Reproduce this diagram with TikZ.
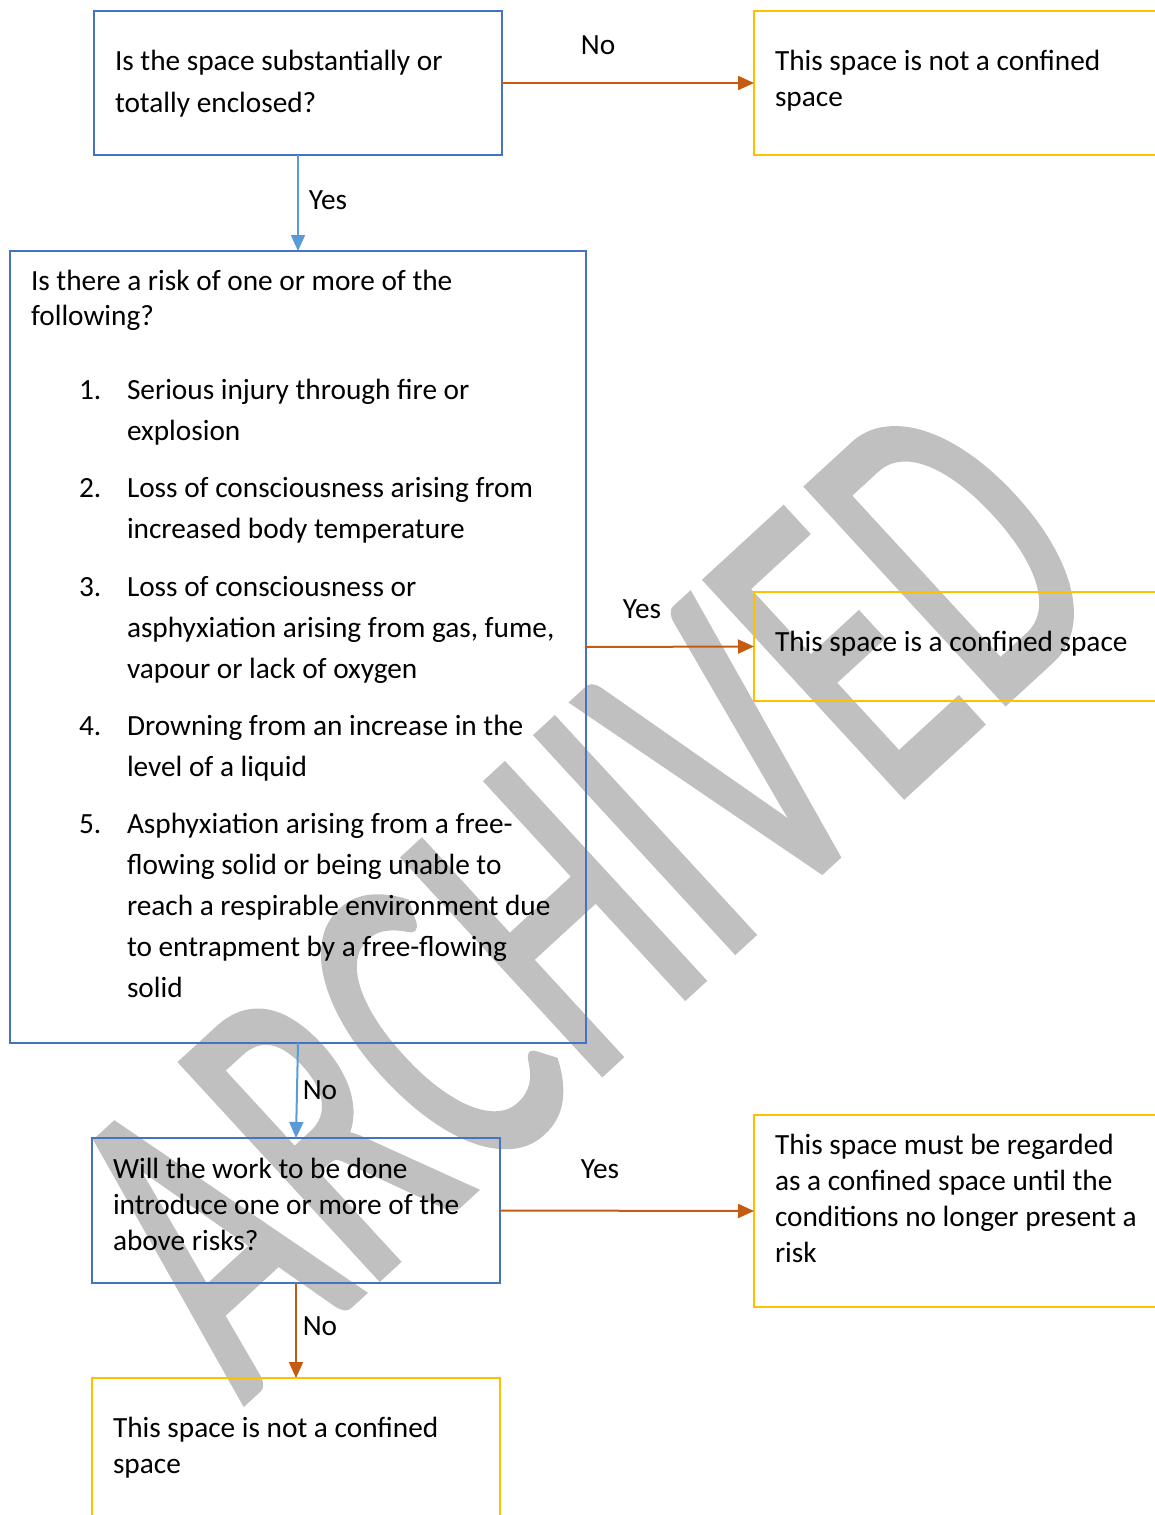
\documentclass[tikz,border=0pt]{standalone}
\usepackage{fontspec}
\setmainfont{Carlito}
\newfontfamily\wmfont{Carlito}[FakeBold=1.6]
\usetikzlibrary{arrows.meta}
\definecolor{boxblue}{HTML}{4472C4}
\definecolor{arrblue}{HTML}{5B9BD5}
\definecolor{arrorange}{HTML}{C55A11}
\definecolor{boxyellow}{HTML}{FFC000}
\definecolor{wmgray}{HTML}{C0C0C0}
\newcommand{\mylines}[2]{\parbox[t]{700pt}{\fontsize{29.3}{#1}\selectfont\raggedright #2}}
\begin{document}
\begin{tikzpicture}[x=1pt,y=-1pt,
  qbox/.style={draw=boxblue, line width=2.5pt, inner sep=0pt, outer sep=0pt},
  abox/.style={draw=boxyellow, line width=2.5pt, inner sep=0pt, outer sep=0pt},
  txt/.style={anchor=base west, inner sep=0pt, outer sep=0pt, font=\fontsize{29.3}{36}\selectfont},
  lbl/.style={inner sep=0pt, font=\fontsize{29.3}{36}\selectfont},
  barrow/.style={draw=arrblue, line width=2pt, -{Triangle[length=16pt,width=14pt]}},
  oarrow/.style={draw=arrorange, line width=2pt, -{Triangle[length=16pt,width=14pt]}}]
\useasboundingbox (0,0) rectangle (1155,1515);
% watermark
\begin{scope}[shift={(681,1000)}, rotate=42.6, yscale=1.6]
\node[transform shape, anchor=base, inner sep=0pt, text=wmgray, font=\wmfont\fontsize{284}{284}\selectfont] (wm) at (0,0) {ARCHIVED};
\end{scope}
% boxes
\node[qbox, minimum width=408pt, minimum height=144pt] (b1) at (298,83) {};
\node[abox, minimum width=421pt, minimum height=144pt] (n1) at (964.5,83) {};
\node[qbox, minimum width=576pt, minimum height=792pt] (b2) at (298,647) {};
\node[abox, minimum width=421pt, minimum height=109pt] (y2) at (964.5,646.5) {};
\node[qbox, minimum width=408pt, minimum height=145pt] (b3) at (296,1210.5) {};
\node[abox, minimum width=421pt, minimum height=192pt] (y3) at (964.5,1211) {};
\node[abox, minimum width=408pt, minimum height=152pt] (n3) at (296,1454) {};
% texts
\node[txt] (b1t) at (115,70) {\mylines{42}{Is the space substantially or\\totally enclosed?}};
\node[txt] (n1t) at (775,70) {\mylines{36}{This space is not a confined\\space}};
\node[txt] (b2h) at (31,290) {\mylines{35}{Is there a risk of one or more of the\\following?}};
\node[txt] (i1n) at (79,399) {1.};
\node[txt] (i1t) at (127,399) {\mylines{41}{Serious injury through fire or\\explosion}};
\node[txt] (i2n) at (79,497) {2.};
\node[txt] (i2t) at (127,497) {\mylines{41}{Loss of consciousness arising from\\increased body temperature}};
\node[txt] (i3n) at (79,596) {3.};
\node[txt] (i3t) at (127,596) {\mylines{41}{Loss of consciousness or\\asphyxiation arising from gas, fume,\\vapour or lack of oxygen}};
\node[txt] (i4n) at (79,735) {4.};
\node[txt] (i4t) at (127,735) {\mylines{41}{Drowning from an increase in the\\level of a liquid}};
\node[txt] (i5n) at (79,833) {5.};
\node[txt] (i5t) at (127,833) {\mylines{41.2}{Asphyxiation arising from a free-\\flowing solid or being unable to\\reach a respirable environment due\\to entrapment by a free-flowing\\solid}};
\node[txt] (y2t) at (775,651) {This space is a confined space};
\node[txt] (b3t) at (113,1178) {\mylines{36}{Will the work to be done\\introduce one or more of the\\above risks?}};
\node[txt] (y3t) at (775,1154) {\mylines{36}{This space must be regarded\\as a confined space until the\\conditions no longer present a\\risk}};
\node[txt] (n3t) at (113,1437) {\mylines{36}{This space is not a confined\\space}};
% connectors
\draw[oarrow] (b1.east) -- (n1.west);
\draw[barrow] (b1.south) -- (b2.north);
\draw[oarrow] (b2.east) -- (y2.west);
\draw[barrow] (b2.south) -- (b3.north);
\draw[oarrow] (b3.east) -- (y3.west);
\draw[oarrow] (b3.south) -- (n3.north);
% labels
\node[lbl] (l1) at (598,45) {No};
\node[lbl] (l2) at (328,200) {Yes};
\node[lbl] (l3) at (642,609) {Yes};
\node[lbl] (l4) at (320,1090) {No};
\node[lbl] (l5) at (600,1169) {Yes};
\node[lbl] (l6) at (320,1326) {No};
\end{tikzpicture}
\end{document}
